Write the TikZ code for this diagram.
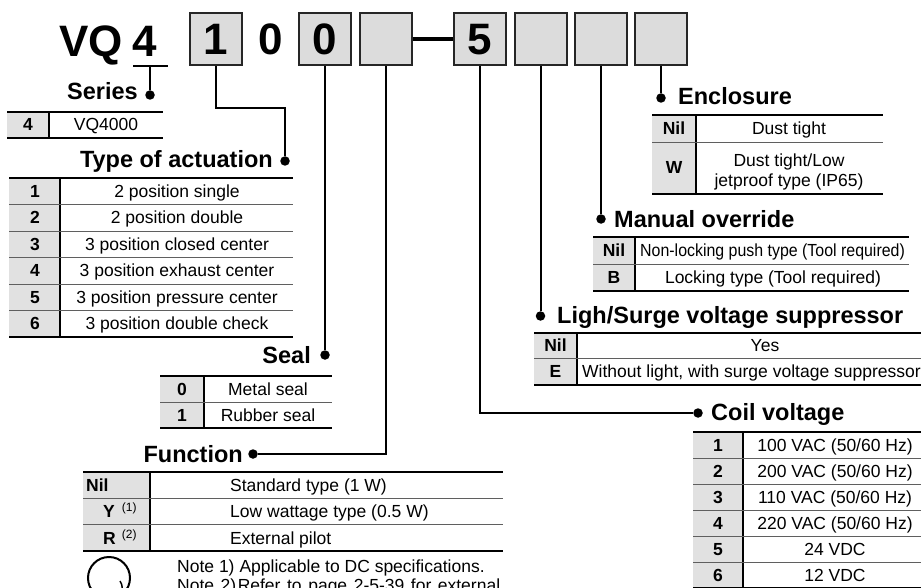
\documentclass[tikz,border=0pt]{standalone}
\usepackage{fontspec}
\setmainfont{Liberation Sans}
\usepackage{graphicx}

\definecolor{boxgray}{RGB}{220,220,220}
\definecolor{keygray}{RGB}{225,225,225}
\definecolor{rulegray}{RGB}{95,95,95}

\tikzset{
  digitbox/.style={draw=black!85, line width=2pt, fill=boxgray, minimum size=52pt, inner sep=0pt, font=\fontsize{44}{44}\selectfont\bfseries},
  bigtext/.style={inner sep=0pt, font=\fontsize{44}{44}\selectfont\bfseries},
  headtext/.style={inner sep=0pt, font=\fontsize{23.5}{23.5}\selectfont\bfseries},
  cell/.style={inner sep=0pt, font=\fontsize{17.5}{20}\selectfont},
  keycell/.style={inner sep=0pt, font=\fontsize{17.5}{20}\selectfont\bfseries},
  link/.style={line width=2pt},
  bullet/.style={circle, fill, inner sep=0pt, minimum size=9.5pt},
  toprule/.style={line width=2.2pt},
  midrule/.style={line width=0.9pt, draw=rulegray},
  botrule/.style={line width=1.3pt},
}

% key column, rules and divider of one table: x0, x1, x2, top, bottom
\newcommand{\tablegrid}[5]{%
  \fill[keygray] (#1,#4) rectangle (#2,#5);
  \draw[toprule] (#1,#4) -- (#3,#4);
  \draw[botrule] (#1,#5) -- (#3,#5);
  \draw[line width=1.3pt] (#2,#4) -- (#2,#5);
}

\begin{document}
\begin{tikzpicture}[x=1pt, y=-1pt]
\useasboundingbox (0,0) rectangle (923,588);

% model code
\node[bigtext, anchor=base west] (vq) at (59,57) {VQ};
\node[bigtext, anchor=base west] (four) at (132,57) {4};
\node[digitbox] (b1) at (215.5,39.5) {1};
\node[bigtext] (zero) at (271,39.5) {0};
\node[digitbox] (b2) at (325,39.5) {0};
\node[digitbox] (b3) at (386,39.5) {};
\node[digitbox] (b4) at (480,39.5) {5};
\node[digitbox] (b5) at (540.5,39.5) {};
\node[digitbox] (b6) at (601,39.5) {};
\node[digitbox] (b7) at (661,39.5) {};
\draw[line width=4pt] (b3.east) -- (b4.west);
\coordinate (ul-l) at (133,66);
\coordinate (ul-r) at (168,66);
\coordinate (ul-m) at (150,66);
\draw[link] (ul-l) -- (ul-r);

% headings and bullets
\node[headtext, anchor=base east] (series) at (138,100) {Series};
\node[bullet] (serdot) at (150,95) {};
\node[headtext, anchor=base east] (actuation) at (273,168) {Type of actuation};
\node[bullet] (actdot) at (285,161) {};
\node[headtext, anchor=base east] (seal) at (311,363) {Seal};
\node[bullet] (sealdot) at (325,355) {};
\node[headtext, anchor=base east] (function) at (243,462) {Function};
\node[bullet] (fundot) at (253,454) {};
\node[headtext, anchor=base west] (enclosure) at (678,105) {Enclosure};
\node[bullet] (encdot) at (661,98) {};
\node[headtext, anchor=base west] (manual) at (614,227) {Manual override};
\node[bullet] (mandot) at (601,219) {};
\node[headtext, anchor=base west] (surge) at (557,323) {Ligh/Surge voltage suppressor};
\node[bullet] (surgedot) at (540.5,316) {};
\node[headtext, anchor=base west] (coil) at (711,420) {Coil voltage};
\node[bullet] (coildot) at (698,413) {};

% connectors
\draw[link] (ul-m) -- (serdot);
\draw[link] (b1.south) -- ++(0,42) -| (actdot);
\draw[link] (b2.south) -- (sealdot);
\draw[link] (b3.south) |- (fundot);
\draw[link] (b4.south) |- (coildot);
\draw[link] (b5.south) -- (surgedot);
\draw[link] (b6.south) -- (mandot);
\draw[link] (b7.south) -- (encdot);

% series
\tablegrid{7}{49}{163}{112}{138}
\node[keycell, anchor=base] (ser-k) at (28,131) {4};
\node[cell, anchor=base] (ser-v) at (106,131) {VQ4000};

% type of actuation
\tablegrid{9}{60}{293}{178}{337}
\foreach \y in {204.5,231,257.5,284,310.5}
  \draw[midrule] (9,\y) -- (293,\y);
\foreach \k/\txt [count=\i] in {1/2 position single, 2/2 position double,
    3/3 position closed center, 4/3 position exhaust center,
    5/3 position pressure center, 6/3 position double check}{
  \node[keycell, anchor=base] (act-k\k) at (35,{170.5+26.5*\i}) {\k};
  \node[cell, anchor=base] (act-v\k) at (177,{170.5+26.5*\i}) {\txt};
}

% seal
\tablegrid{160}{204}{332}{376}{428}
\draw[midrule] (160,402) -- (332,402);
\node[keycell, anchor=base] (seal-k0) at (182,395) {0};
\node[cell, anchor=base] (seal-v0) at (268,395) {Metal seal};
\node[keycell, anchor=base] (seal-k1) at (182,421) {1};
\node[cell, anchor=base] (seal-v1) at (268,421) {Rubber seal};

% function
\tablegrid{83}{150}{503}{472}{551}
\draw[midrule] (83,498) -- (503,498);
\draw[midrule] (83,524.5) -- (503,524.5);
\node[keycell, anchor=base west] (fun-kn) at (86,491) {Nil};
\node[keycell, anchor=base west] (fun-ky) at (103,517) {Y\hspace{7pt}\raisebox{6pt}{\fontsize{12}{12}\selectfont\mdseries(1)}};
\node[keycell, anchor=base west] (fun-kr) at (103,544) {R\hspace{6pt}\raisebox{6pt}{\fontsize{12}{12}\selectfont\mdseries(2)}};
\node[cell, anchor=base west] (fun-vn) at (230,491) {Standard type (1 W)};
\node[cell, anchor=base west] (fun-vy) at (230,517) {Low wattage type (0.5 W)};
\node[cell, anchor=base west] (fun-vr) at (230,544) {External pilot};

% notes
\begin{scope}
\clip (0,540) rectangle (923,588);
\draw[line width=2pt] (109,578) circle (21pt);
\draw[line width=1.5pt] (120,581) to[bend left=35] (120,594);
\node[cell, anchor=base west] (note1) at (177,572) {Note 1)\hspace{5pt}Applicable to DC specifications.};
\node[cell, anchor=base west] (note2) at (177,591) {\makebox[323pt][s]{Note 2)\hspace{1.5pt}Refer to page 2-5-39 for external}};
\end{scope}

% enclosure
\tablegrid{652}{696}{883}{115}{194}
\draw[midrule] (652,142) -- (883,142);
\node[keycell, anchor=base] (enc-kn) at (674,134.5) {Nil};
\node[cell, anchor=base] (enc-vn) at (789,134.5) {Dust tight};
\node[keycell, anchor=base] (enc-kw) at (674,174) {W};
\node[cell, align=center] (enc-vw) at (789,172) {Dust tight/Low\\jetproof type (IP65)};

% manual override
\tablegrid{593}{635}{909}{237}{291}
\draw[midrule] (593,264) -- (909,264);
\node[keycell, anchor=base] (man-kn) at (614,256.5) {Nil};
\node[cell, anchor=base west] (man-vn) at (640,256.5) {\scalebox{0.91}[1]{Non-locking push type (Tool required)}};
\node[keycell, anchor=base] (man-kb) at (614,283.5) {B};
\node[cell, anchor=base] (man-vb) at (773,283.5) {Locking type (Tool required)};

% light/surge voltage suppressor
\tablegrid{534}{577}{921}{333}{385}
\draw[midrule] (534,358) -- (921,358);
\node[keycell, anchor=base] (sur-kn) at (555.5,351.5) {Nil};
\node[cell, anchor=base] (sur-vn) at (765,351.5) {Yes};
\node[keycell, anchor=base] (sur-ke) at (555.5,377.5) {E};
\node[cell, anchor=base west] (sur-ve) at (582,377.5) {Without light, with surge voltage suppressor};

% coil voltage
\tablegrid{693}{743}{921}{432}{588}
\foreach \y in {458,484,510,536,562}
  \draw[midrule] (693,\y) -- (921,\y);
\foreach \k/\txt [count=\i] in {1/{100 VAC (50/60 Hz)}, 2/{200 VAC (50/60 Hz)},
    3/{110 VAC (50/60 Hz)}, 4/{220 VAC (50/60 Hz)}, 5/24 VDC, 6/12 VDC}{
  \node[keycell, anchor=base] (coil-k\k) at (718,{425+26*\i}) {\k};
  \node[cell, anchor=base] (coil-v\k) at (835,{425+26*\i}) {\txt};
}
\end{tikzpicture}
\end{document}
